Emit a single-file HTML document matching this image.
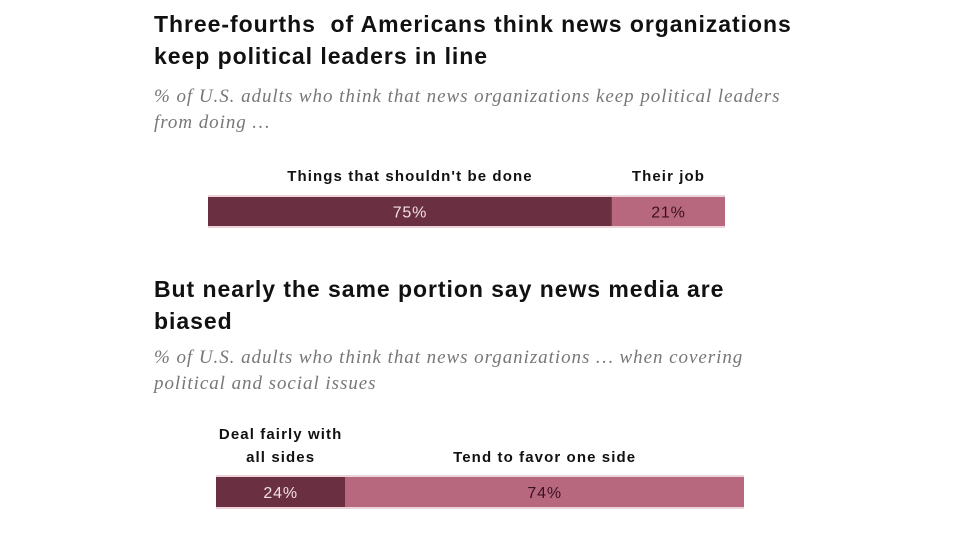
<!DOCTYPE html>
<html><head><meta charset="utf-8"><style>
body{margin:0;width:960px;height:540px;background:#fff;overflow:hidden;font-family:"Liberation Sans",sans-serif;position:relative}
.t{position:absolute;left:154px;font-weight:bold;font-size:23px;color:#111;line-height:32px;letter-spacing:0.95px;white-space:nowrap}
.s{position:absolute;left:154px;font-family:"Liberation Serif",serif;font-style:italic;font-size:19px;color:#777;line-height:26px;letter-spacing:0.95px;white-space:nowrap}
</style></head><body>
<div class="t" style="top:8px">Three-fourths&nbsp; of Americans think news organizations<br>keep political leaders in line</div>
<div class="s" style="top:84px">% of U.S. adults who think that news organizations keep political leaders<br>from doing …</div>
<div class="t" style="top:273px">But nearly the same portion say news media are<br>biased</div>
<div class="s" style="top:345px">% of U.S. adults who think that news organizations … when covering<br>political and social issues</div>
<svg id="c" width="960" height="540" style="position:absolute;left:0;top:0"></svg>
<script>
const cats1=["Things that shouldn't be done","Their job"];
const vals1=[75,21];
const cats2=[["Deal fairly with","all sides"],["Tend to favor one side"]];
const vals2=[24,74];
const colors=["#6b2f42","#b8687e"];
const textColors=["#f0e0e6","#3a1020"];
const NS="http://www.w3.org/2000/svg";
const svg=document.getElementById('c');
function mk(t,a){const e=document.createElementNS(NS,t);for(const k in a)e.setAttribute(k,a[k]);svg.appendChild(e);return e;}
function draw(cats,vals,x0,x1,y,h,labelBottom,tag){
  const total=vals.reduce((a,b)=>a+b,0);
  const sx=v=>(x1-x0)*v/total;
  const bg=mk('rect',{x:x0,y:y-2,width:x1-x0,height:h+4,fill:'#ecd3da'});
  
  
  let x=x0;
  vals.forEach((v,i)=>{
    const w=sx(v);
    const r=mk('rect',{x:x,y:y,width:w,height:h,fill:colors[i]});
    
    
    const t=mk('text',{x:x+w/2,y:y+h/2+6,'text-anchor':'middle','font-size':16,'letter-spacing':0.8,fill:textColors[i],'font-family':'Liberation Sans'});
    t.textContent=v+'%';
    
    
    const lines=Array.isArray(cats[i])?cats[i]:[cats[i]];
    lines.forEach((ln,j)=>{
      const lt=mk('text',{x:x+w/2,y:labelBottom-(lines.length-1-j)*23,'text-anchor':'middle','font-size':15,'letter-spacing':1.1,'font-weight':'bold',fill:'#111','font-family':'Liberation Sans'});
      lt.textContent=ln;
      
      
    });
    x+=w;
  });
}
draw(cats1,vals1,208,725,197,29,181,'chart1');
draw(cats2,vals2,216,744,477,30,462,'chart2');
</script>
</body></html>
